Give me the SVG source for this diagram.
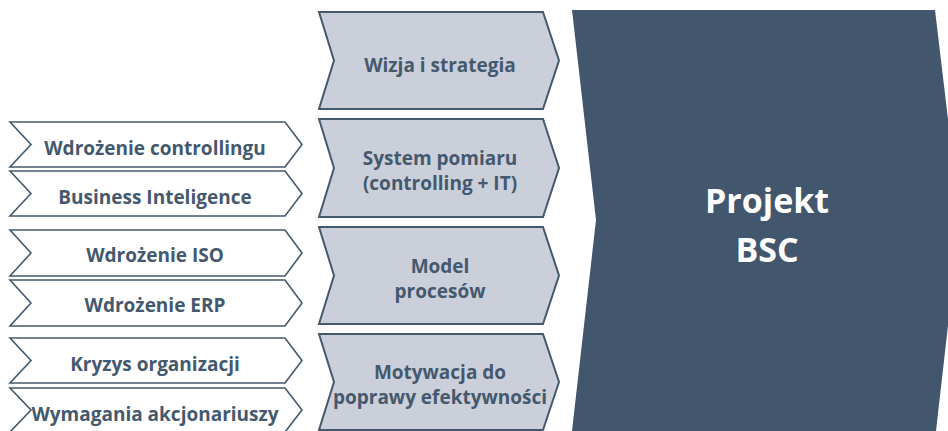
<svg xmlns="http://www.w3.org/2000/svg" width="948" height="431" viewBox="0 0 948 431">
<style>
.small{fill:#ffffff;stroke:#44596e;stroke-width:1.6}
.mid{fill:#cbcfd9;stroke:#44596e;stroke-width:2}
.t{font-family:"Open Sans","Liberation Sans",sans-serif;font-weight:700;fill:#44596e;text-anchor:middle}
.ts{font-size:19px}
.tm{font-size:19px}
.big{font-family:"Open Sans","Liberation Sans",sans-serif;font-weight:700;fill:#ffffff;text-anchor:middle;font-size:34px}
</style>
<rect width="948" height="431" fill="#ffffff"/>
<g id="left1"><path class="small" d="M10,122 L285,122 L302,144.5 L285,167 L10,167 L31,144.5 Z"/><text class="t ts" x="155" y="155">Wdrożenie controllingu</text></g>
<g id="left2"><path class="small" d="M10,171 L285,171 L302,193.5 L285,216 L10,216 L31,193.5 Z"/><text class="t ts" x="155" y="204">Business Inteligence</text></g>
<g id="left3"><path class="small" d="M10,230 L285,230 L302,253 L285,276 L10,276 L31,253 Z"/><text class="t ts" x="155" y="262">Wdrożenie ISO</text></g>
<g id="left4"><path class="small" d="M10,280 L285,280 L302,303 L285,326 L10,326 L31,303 Z"/><text class="t ts" x="155" y="312">Wdrożenie ERP</text></g>
<g id="left5"><path class="small" d="M10,338 L285,338 L302,360.5 L285,383 L10,383 L31,360.5 Z"/><text class="t ts" x="155" y="371">Kryzys organizacji</text></g>
<g id="left6"><path class="small" d="M10,388 L285,388 L302,410 L285,432 L10,432 L31,410 Z"/><text class="t ts" x="155" y="421">Wymagania akcjonariuszy</text></g>
<g id="mid1"><path class="mid" d="M319,12 L543,12 L559,60.5 L543,109 L319,109 L334,60.5 Z"/><text class="t tm" x="440" y="72">Wizja i strategia</text></g>
<g id="mid2"><path class="mid" d="M319,119 L543,119 L559,168 L543,217 L319,217 L334,168 Z"/><text class="t tm" x="440" y="165">System pomiaru</text><text class="t tm" x="440" y="190">(controlling + IT)</text></g>
<g id="mid3"><path class="mid" d="M319,227 L543,227 L559,275.5 L543,324 L319,324 L334,275.5 Z"/><text class="t tm" x="440" y="273">Model</text><text class="t tm" x="440" y="298">procesów</text></g>
<g id="mid4"><path class="mid" d="M319,334 L543,334 L559,382 L543,430 L319,430 L334,382 Z"/><text class="t tm" x="440" y="379">Motywacja do</text><text class="t tm" x="440" y="404">poprawy efektywności</text></g>
<g id="main"><path fill="#42576d" d="M572,10 L935,10 L960,220 L936,431 L572,431 L596,220 Z"/><text class="big" x="767" y="213">Projekt</text><text class="big" x="767" y="262">BSC</text></g>
<g id="connectors"></g>
</svg>
